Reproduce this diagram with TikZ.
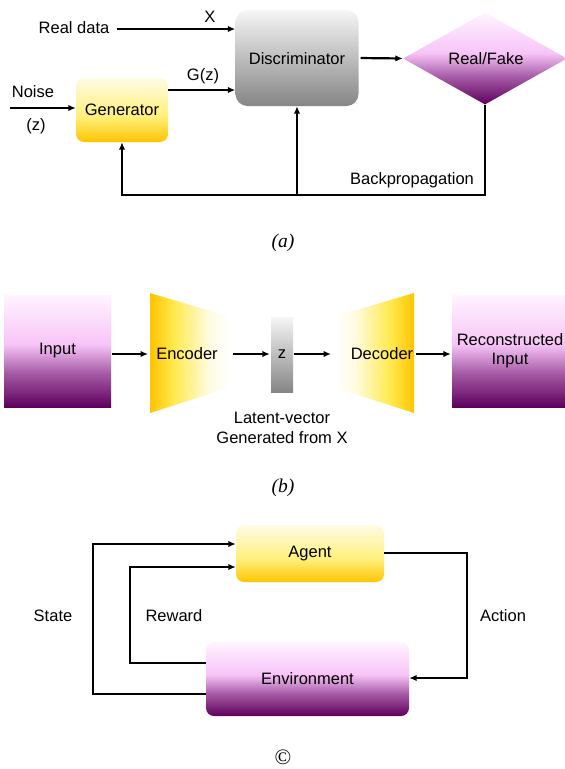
\documentclass[tikz,border=0pt]{standalone}
\usepackage{fontspec}
\setmainfont{Liberation Sans}
\newfontfamily\capfont{Liberation Serif}
\usetikzlibrary{shapes.geometric,arrows.meta}
\definecolor{gold}{HTML}{FFC400}
\definecolor{yel}{HTML}{FFEA50}
\definecolor{ylight}{HTML}{FFFBE4}
\definecolor{ymid}{HTML}{FFF07A}
\definecolor{glight}{HTML}{F6F6F6}
\definecolor{gdark}{HTML}{858585}
\definecolor{pdark}{HTML}{5E005E}
\definecolor{pmid}{HTML}{A55AA5}
\definecolor{ppink}{HTML}{F7C4F7}
\definecolor{plight}{HTML}{FFF4FF}
\pgfdeclareverticalshading{purpshade}{100bp}{color(0bp)=(pdark); color(25bp)=(pdark); color(40bp)=(pmid); color(53bp)=(ppink); color(75bp)=(plight); color(100bp)=(plight)}
\pgfdeclareverticalshading{yelshade}{100bp}{color(0bp)=(gold); color(25bp)=(gold); color(45bp)=(ymid); color(75bp)=(ylight); color(100bp)=(ylight)}
\pgfdeclarehorizontalshading{encshade}{100bp}{color(0bp)=(gold); color(25bp)=(gold); color(40bp)=(yel); color(62bp)=(ylight); color(75bp)=(white); color(100bp)=(white)}
\pgfdeclarehorizontalshading{decshade}{100bp}{color(0bp)=(white); color(25bp)=(white); color(38bp)=(ylight); color(60bp)=(yel); color(75bp)=(gold); color(100bp)=(gold)}
\tikzset{
  lbl/.style={font=\fontsize{16.5}{19}\selectfont, inner sep=0pt},
  figcap/.style={font=\capfont\itshape\fontsize{19.5}{21}\selectfont, inner sep=0pt},
  arr/.style={line width=2.2pt, -{Latex[length=7.5pt,width=6.5pt]}},
  ybox/.style={lbl, rounded corners=8pt, shading=yelshade, minimum width=#1},
  pbox/.style={lbl, shading=purpshade},
}
\begin{document}
\begin{tikzpicture}[x=1pt,y=-1pt]
\useasboundingbox (0,0) rectangle (565,769);
% ---------- (a) ----------
\node[ybox=92pt, minimum height=64pt] (gen) at (122,110) {Generator};
\node[lbl, rounded corners=12pt, top color=glight, bottom color=gdark, minimum width=123pt, minimum height=96pt] (disc) at (297,58) {};
\node[lbl] (disct) at (297,59) {Discriminator};
\node[diamond, aspect=1.78, inner sep=0pt, minimum width=164pt, minimum height=92pt, shading=purpshade] (rf) at (485,58.5) {};
\node[lbl] (rft) at (486,59) {Real/Fake};
\node[lbl] (rd) at (74,28) {Real data};
\node[lbl] (xl) at (210,17) {X};
\node[lbl] (gz) at (203,76) {G(z)};
\node[lbl] (noise) at (33,92) {Noise};
\node[lbl] (zl) at (36,126) {(z)};
\node[lbl] (bp) at (412,180) {Backpropagation};
\coordinate (rdstart) at (117,29);
\coordinate (noisein) at (10,108);
\coordinate (bl) at (122,195);
\draw[arr] (rdstart) -- (rdstart -| disc.west);
\draw[arr] ([yshift=20pt]gen.east) -- ([yshift=20pt]gen.east -| disc.west);
\draw[arr] (noisein) -- (noisein -| gen.west);
\draw[arr, shorten <=2pt] (disc.east) -- (rf.west);
\draw[arr] (rf.south) |- (gen.south |- bl) -- (gen.south);
\draw[arr] (disc.south |- bl) -- (disc.south);
\node[figcap] (capa) at (283,243) {(a)};
% ---------- (b) ----------
\node[pbox, minimum width=107pt, minimum height=112pt] (inp) at (57.5,351) {Input};
\node[pbox, minimum width=116pt, minimum height=112pt, align=center] (rec) at (510,351) {Reconstructed\\Input};
\coordinate (encL) at (150,354);
\coordinate (encR) at (231,354);
\coordinate (decL) at (333,354);
\coordinate (decR) at (414,354);
\shade[shading=encshade] (150,293) -- (231,317) -- (231,387) -- (150,413) -- cycle;
\shade[shading=decshade] (333,317) -- (414,293) -- (414,413) -- (333,387) -- cycle;
\node[lbl] (enc) at (187,354) {Encoder};
\node[lbl] (dec) at (382,354) {Decoder};
\node[lbl, top color=glight, bottom color=gdark, minimum width=22pt, minimum height=75pt] (zb) at (282,354.5) {z};
\draw[arr, shorten <=1pt, shorten >=2pt] (encL -| inp.east) -- (encL);
\draw[arr, shorten <=2pt, shorten >=1pt] (encR) -- (encR -| zb.west);
\draw[arr, shorten <=1pt, shorten >=2pt] (decL -| zb.east) -- (decL);
\draw[arr, shorten <=2pt, shorten >=1pt] (decR) -- (decR -| rec.west);
\node[lbl, align=center] (lat) at (282,428) {Latent-vector\\[1pt]Generated from X};
\node[figcap] (capb) at (283,488) {(b)};
% ---------- (c) ----------
\node[ybox=148pt, minimum height=57pt] (agent) at (310,553.5) {Agent};
\node[pbox, rounded corners=8pt, minimum width=203pt, minimum height=74pt] (env) at (307.5,679) {Environment};
\coordinate (stx) at (93,694);
\coordinate (sty) at (93,544);
\coordinate (rwx) at (130,663);
\coordinate (rwy) at (130,567);
\coordinate (acx) at (467,553);
\coordinate (acy) at (467,678);
\draw[arr] (stx -| env.west) -- (stx) -- (sty) -- (sty -| agent.west);
\draw[arr] (rwx -| env.west) -- (rwx) -- (rwy) -- (rwy -| agent.west);
\draw[arr] (acx -| agent.east) -- (acx) -- (acy) -- (acy -| env.east);
\node[lbl] (st) at (53,616) {State};
\node[lbl] (rw) at (174,616) {Reward};
\node[lbl] (ac) at (503,616) {Action};
\node[font=\capfont\fontsize{22}{24}\selectfont, inner sep=0pt] (capc) at (283,757) {©};
\end{tikzpicture}
\end{document}
